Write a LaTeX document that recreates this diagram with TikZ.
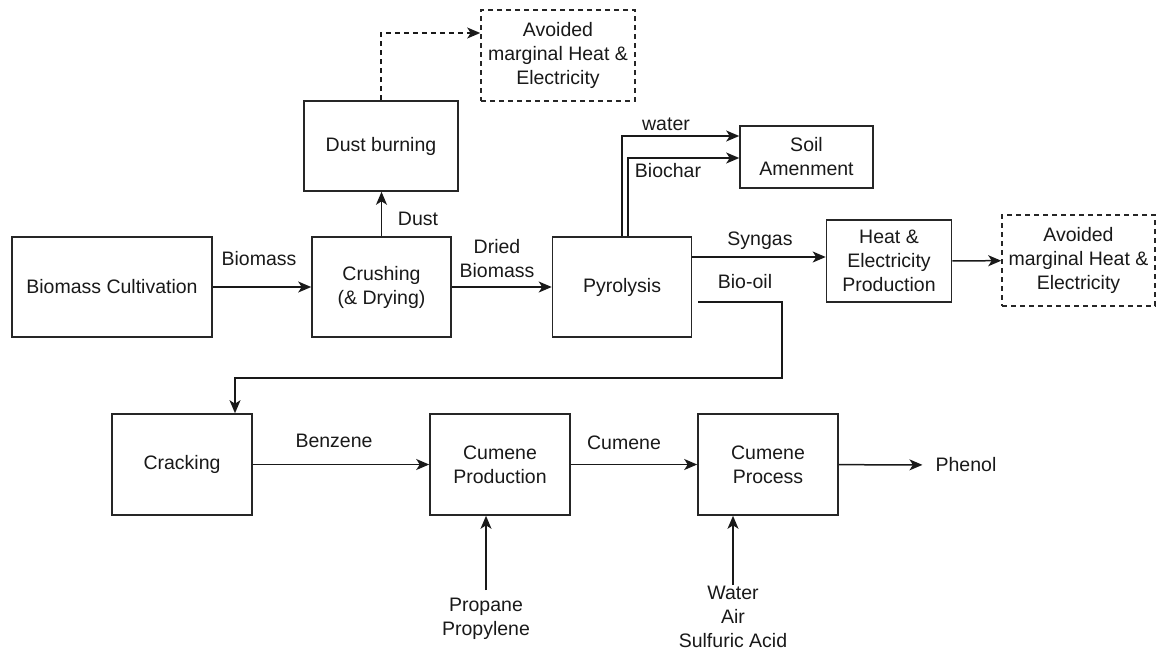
\documentclass[tikz,border=0pt]{standalone}
\usepackage{fontspec}
\setmainfont{Liberation Sans}
\usetikzlibrary{arrows.meta,calc}
\begin{document}
\begin{tikzpicture}[x=1pt,y=-1pt,
  every node/.style={font=\fontsize{19.5}{24}\selectfont, text=black!90, align=center, inner sep=0pt},
  box/.style={draw=black!85, line width=1.6pt, fill=white},
  dbox/.style={box, dash pattern=on 5pt off 4pt},
  arr/.style={line width=1.5pt, draw=black!90, -{Stealth[length=13pt,width=11pt,inset=3.5pt]}},
  lbl/.style={}
]
\useasboundingbox (0,0) rectangle (1157,651);
% boxes
\node[box, minimum width=200pt, minimum height=100pt] (bc) at (112,287) {Biomass Cultivation};
\node[box, minimum width=139pt, minimum height=100pt] (cr) at (381.5,287) {Crushing\\(\& Drying)};
\node[box, minimum width=154pt, minimum height=90pt] (db) at (381,146) {Dust burning};
\node[dbox, minimum width=154pt, minimum height=91pt] (av1) at (558,55.5) {Avoided\\marginal Heat \&\\Electricity};
\node[box, minimum width=139pt, minimum height=100pt] (py) at (622,287) {Pyrolysis};
\node[box, minimum width=133pt, minimum height=62pt] (soil) at (806.5,157) {Soil\\Amenment};
\node[box, minimum width=125pt, minimum height=82pt] (he) at (889,261) {Heat \&\\Electricity\\Production};
\node[dbox, minimum width=153pt, minimum height=91pt] (av2) at (1078.5,260.5) {Avoided\\marginal Heat \&\\Electricity};
\node[box, minimum width=140pt, minimum height=101pt] (ck) at (182,464.5) {Cracking};
\node[box, minimum width=140pt, minimum height=101pt] (cp) at (500,464.5) {Cumene\\Production};
\node[box, minimum width=140pt, minimum height=101pt] (cpr) at (768,464.5) {Cumene\\Process};
% free text nodes
\node[inner xsep=13pt] (ph) at (966,465) {Phenol};
\node[inner ysep=8pt] (pp) at (486,619) {Propane\\Propylene};
\node[inner ysep=1pt] (wa) at (733,617) {Water\\Air\\Sulfuric Acid};
% connectors
\draw[arr] (bc) -- (cr);
\draw[arr] (cr) -- (py);
\draw[arr] (cr.north) -- (cr.north |- db.south);
\draw[arr, dash pattern=on 5pt off 4pt] (db.north) |- ([yshift=22.5pt]av1.west);
\draw[arr] (py.north) |- ([yshift=21pt]soil.west);
\draw[arr] ([xshift=6pt]py.north) |- ([yshift=-1pt]soil.west);
\draw[arr] ([yshift=30pt]py.east) -- ([yshift=30pt]py.east -| he.west);
\draw[arr] (he) -- (av2);
\coordinate (bo) at (698,302);
\draw[arr] (bo) -| (782,378) -| ([xshift=53pt]ck.north);
\draw[arr] (ck) -- (cp);
\draw[arr] (cp) -- (cpr);
\draw[arr] (cpr) -- (ph);
\draw[arr] (pp.north) -- (pp.north |- cp.south);
\draw[arr] (wa.north) -- (wa.north |- cpr.south);
% labels
\node[lbl] at (259,259) {Biomass};
\node[lbl] at (497,259) {Dried\\Biomass};
\node[lbl] at (418,219) {Dust};
\node[lbl] at (666,124) {water};
\node[lbl] at (668,171) {Biochar};
\node[lbl] at (760,241) {Syngas};
\node[lbl] at (745,282) {Bio-oil};
\node[lbl] at (334,441) {Benzene};
\node[lbl] at (624,443) {Cumene};
\end{tikzpicture}
\end{document}
